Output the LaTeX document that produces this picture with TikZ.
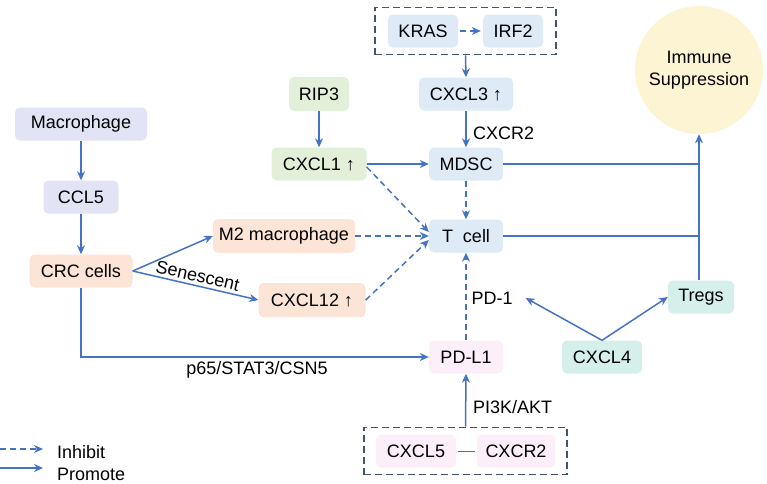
\documentclass[tikz,border=0pt]{standalone}
\usepackage{fontspec}
\setmainfont{Liberation Sans}
\usetikzlibrary{arrows.meta,fit,positioning}
\definecolor{arr}{HTML}{4472C4}
\definecolor{dbox}{HTML}{44546A}
\definecolor{cblue}{HTML}{DEEBF7}
\definecolor{cgreen}{HTML}{E2F0D9}
\definecolor{cpeach}{HTML}{FCE4D6}
\definecolor{clav}{HTML}{E2E3F5}
\definecolor{cpink}{HTML}{FCEFFA}
\definecolor{cteal}{HTML}{D5EFEA}
\definecolor{cyel}{HTML}{FDF4D4}
\tikzset{
  box/.style={rounded corners=5pt, minimum height=33pt, inner sep=0pt, font=\fontsize{18}{20}\selectfont},
  lbl/.style={font=\fontsize{18}{20}\selectfont, inner sep=1pt},
  pro/.style={draw=arr, line width=1.5pt, -{Stealth[length=9pt,width=8pt]}},
  inh/.style={draw=arr, line width=1.5pt, dash pattern=on 6pt off 4pt, -{Stealth[length=9pt,width=8pt]}},
  plain/.style={draw=arr, line width=1.5pt},
  grp/.style={draw=dbox, line width=1.5pt, dash pattern=on 7pt off 4pt, inner ysep=7pt}
}
\begin{document}
\begin{tikzpicture}[x=1pt,y=-1pt]
\useasboundingbox (0,0) rectangle (767,483);
% nodes
\node[box, fill=cblue, minimum width=70pt] (KRAS) at (423,31) {KRAS};
\node[box, fill=cblue, minimum width=60pt] (IRF2) at (513,31) {IRF2};
\node[grp, inner xsep=13pt, fit=(KRAS)(IRF2)] (box1) {};
\node[box, fill=cblue, minimum width=94pt] (CXCL3) at (466,94) {CXCL3 ↑};
\node[box, fill=cgreen, minimum width=60pt, minimum height=34pt] (RIP3) at (319,94) {RIP3};
\node[box, fill=cgreen, minimum width=95pt] (CXCL1) at (319,164) {CXCL1 ↑};
\node[box, fill=cblue, minimum width=74pt] (MDSC) at (466,164) {MDSC};
\node[box, fill=cblue, minimum width=74pt] (Tcell) at (466,236) {T\ \ cell};
\node[box, fill=cpeach, minimum width=142pt, minimum height=34pt] (M2) at (284,236) {M2 macrophage};
\node[box, fill=cpeach, minimum width=107pt, minimum height=34pt] (CXCL12) at (312,300) {CXCL12 ↑};
\node[box, fill=clav, minimum width=132pt] (Mac) at (81,124) {Macrophage};
\node[box, fill=clav, minimum width=75pt] (CCL5) at (81,197) {CCL5};
\node[box, fill=cpeach, minimum width=103pt] (CRC) at (81,271) {CRC cells};
\node[box, fill=cpink, minimum width=74pt] (PDL1) at (466,357) {PD-L1};
\node[box, fill=cteal, minimum width=80pt] (CXCL4) at (602,357) {CXCL4};
\node[box, fill=cteal, minimum width=66pt] (Tregs) at (701,297) {Tregs};
\node[box, fill=cpink, minimum width=80pt] (CXCL5) at (416,451) {CXCL5};
\node[box, fill=cpink, minimum width=78pt] (CXCR2b) at (516,451) {CXCR2};
\node[grp, inner xsep=12pt, fit=(CXCL5)(CXCR2b)] (box2) {};
\node[circle, fill=cyel, minimum size=128pt, inner sep=0pt, align=center, font=\fontsize{18}{22}\selectfont] (IS) at (699,70) {Immune\\Suppression};
\node[lbl] (pd1) at (492,298) {PD-1};
\node[lbl, anchor=west] (cxcr2l) at (472,133) {CXCR2};
\node[lbl, anchor=west] (pi3k) at (472,407) {PI3K/AKT};
\node[lbl] (p65) at (257,370) {p65/STAT3/CSN5};
% connectors
\draw[inh, shorten >=2pt, shorten <=2pt] (KRAS) -- (IRF2);
\draw[pro] (box1.south) -- (CXCL3.north);
\draw[pro] (CXCL3) -- (MDSC);
\draw[pro] (RIP3) -- (CXCL1);
\draw[pro] (CXCL1.east) -- (MDSC.west);
\draw[inh] ([yshift=-3pt]CXCL1.east) -- ([yshift=4pt]Tcell.west);
\draw[inh] (MDSC) -- (Tcell);
\draw[inh] (M2.east) -- (Tcell.west);
\draw[inh] (CXCL12.east) -- ([yshift=-4pt]Tcell.west);
\draw[pro] (Mac) -- (CCL5);
\draw[pro] (CCL5) -- (CRC);
\draw[pro] (CRC.east) -- (M2.west);
\draw[pro] (CRC.east) -- node[pos=0.5, sloped, above, lbl, inner sep=3pt] {Senescent} (CXCL12.west);
\draw[pro] (CRC.south) |- (PDL1.west);
\draw[inh] (PDL1) -- (Tcell);
\draw[pro] (box2.north) -- (PDL1.south);
\draw[draw=arr, line width=0.8pt, shorten <=2pt, shorten >=2pt] (CXCL5.east) -- (CXCR2b.west);
\coordinate (apex) at (CXCL4.north);
\draw[pro] (apex) -- ([xshift=12pt]pd1.east);
\draw[pro] (apex) -- (Tregs.west);
\coordinate (j1) at (699,164);
\coordinate (j2) at (699,236);
\draw[plain] (MDSC.east) -- (j1);
\draw[plain] (Tcell.east) -- (j2);
\draw[pro] (Tregs.north -| IS.south) -- (IS.south);
% legend
\coordinate (la) at (0,449); \coordinate (lb) at (43,449);
\coordinate (lc) at (0,468); \coordinate (ld) at (43,468);
\draw[inh] (la) -- (lb);
\draw[pro] (lc) -- (ld);
\node[lbl, anchor=west] (inhl) at (56,452) {Inhibit};
\node[lbl, anchor=west] (prol) at (56,474) {Promote};
\end{tikzpicture}
\end{document}
